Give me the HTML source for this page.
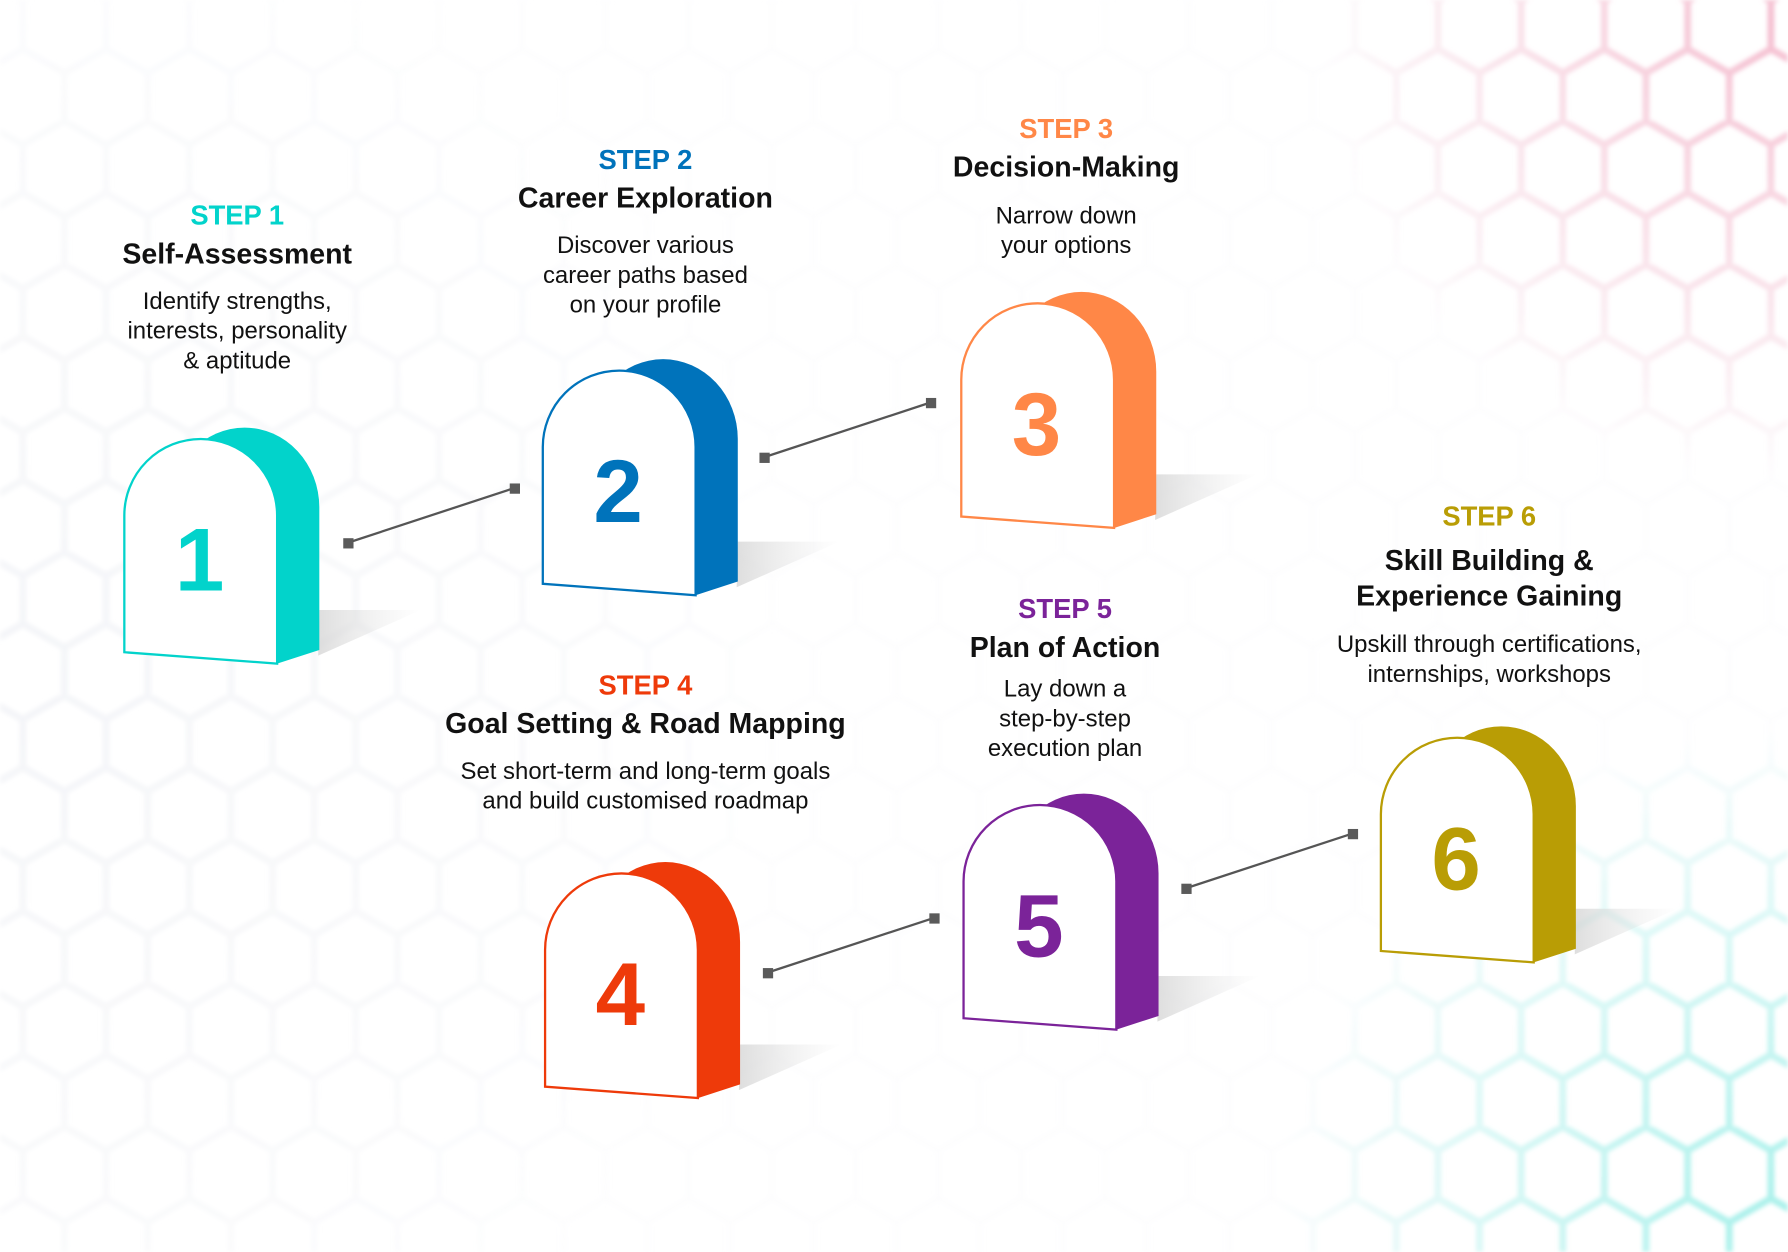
<!DOCTYPE html>
<html><head><meta charset="utf-8"><style>
html,body{margin:0;padding:0;background:#fff;}
svg{display:block;}
text{font-family:"Liberation Sans",sans-serif;text-anchor:middle;}
.st{font-size:24px;font-weight:bold;}
.tt{font-size:25px;fill:#111;font-weight:bold;}
.ds{font-size:21px;fill:#111;}
.num{font-size:78px;font-weight:bold;}
</style></head><body>
<svg width="1788" height="1252" viewBox="0 0 1568 1098" xmlns="http://www.w3.org/2000/svg">
<defs>
<pattern id="hexG" width="73" height="126" patternUnits="userSpaceOnUse" x="20" y="-20">
<path d="M36.5,0 L73,21 L73,63 L36.5,84 L0,63 L0,21 Z M36.5,84 L36.5,126" fill="none" stroke="#eceef3" stroke-width="6"/>
</pattern>
<pattern id="hexP" width="73" height="126" patternUnits="userSpaceOnUse" x="20" y="-20">
<path d="M36.5,0 L73,21 L73,63 L36.5,84 L0,63 L0,21 Z M36.5,84 L36.5,126" fill="none" stroke="#f5bfd0" stroke-width="6"/>
</pattern>
<pattern id="hexC" width="73" height="126" patternUnits="userSpaceOnUse" x="20" y="-20">
<path d="M36.5,0 L73,21 L73,63 L36.5,84 L0,63 L0,21 Z M36.5,84 L36.5,126" fill="none" stroke="#a6f0ea" stroke-width="6"/>
</pattern>
<filter id="bl"><feGaussianBlur stdDeviation="1.8"/></filter>
<radialGradient id="gPink" cx="1560" cy="20" r="400" gradientUnits="userSpaceOnUse"><stop offset="0" stop-color="#fff" stop-opacity="1"/><stop offset="1" stop-color="#fff" stop-opacity="0"/></radialGradient>
<radialGradient id="gCyan" cx="1560" cy="1080" r="440" gradientUnits="userSpaceOnUse"><stop offset="0" stop-color="#fff" stop-opacity="1"/><stop offset="1" stop-color="#fff" stop-opacity="0"/></radialGradient>
<radialGradient id="gGray" cx="0" cy="600" r="700" gradientUnits="userSpaceOnUse"><stop offset="0" stop-color="#fff" stop-opacity="0.6"/><stop offset="1" stop-color="#fff" stop-opacity="0.1"/></radialGradient>
<mask id="mPink"><rect width="1568" height="1098" fill="url(#gPink)"/></mask>
<mask id="mCyan"><rect width="1568" height="1098" fill="url(#gCyan)"/></mask>
<mask id="mGray"><rect width="1568" height="1098" fill="url(#gGray)"/></mask>
<linearGradient id="sh" x1="0" y1="0" x2="1" y2="0"><stop offset="0" stop-color="#d0d0d0" stop-opacity="0.7"/><stop offset="1" stop-color="#e0e0e0" stop-opacity="0"/></linearGradient>
</defs>
<rect width="1568" height="1098" fill="#fff"/>
<g filter="url(#bl)">
<rect width="1568" height="1098" fill="url(#hexG)" mask="url(#mGray)"/>
<rect width="1568" height="1098" fill="url(#hexP)" mask="url(#mPink)"/>
<rect width="1568" height="1098" fill="url(#hexC)" mask="url(#mCyan)"/>
</g>

<!-- connectors -->
<g stroke="#555" stroke-width="2">
<line x1="305" y1="476" x2="451" y2="428"/>
<line x1="670" y1="401" x2="816" y2="353"/>
<line x1="673" y1="853" x2="819" y2="805"/>
<line x1="1040" y1="779" x2="1186" y2="731"/>
</g>
<g fill="#5a5a5a">
<rect x="301" y="472" width="9" height="9"/><rect x="447" y="424" width="9" height="9"/>
<rect x="666" y="397" width="9" height="9"/><rect x="812" y="349" width="9" height="9"/>
<rect x="669" y="849" width="9" height="9"/><rect x="815" y="801" width="9" height="9"/>
<rect x="1036" y="775" width="9" height="9"/><rect x="1182" y="727" width="9" height="9"/>
</g>

<!-- stones -->
<g transform="translate(109,385)">
<polygon points="171,150 260,150 170,190" fill="url(#sh)"/>
<path d="M40,60 A65.5,70 0 0 1 171,60 L171,185 L134,197 Z" fill="#02d3cb"/>
<path d="M0,187 L0,67 A67,67 0 0 1 134,67 L134,197 Z" fill="#fff" stroke="#02d3cb" stroke-width="2"/>
<text x="66" y="133" class="num" fill="#02d3cb">1</text>
</g>
<g transform="translate(476,325)">
<polygon points="171,150 260,150 170,190" fill="url(#sh)"/>
<path d="M40,60 A65.5,70 0 0 1 171,60 L171,185 L134,197 Z" fill="#0073bb"/>
<path d="M0,187 L0,67 A67,67 0 0 1 134,67 L134,197 Z" fill="#fff" stroke="#0073bb" stroke-width="2"/>
<text x="66" y="133" class="num" fill="#0073bb">2</text>
</g>
<g transform="translate(843,266)">
<polygon points="171,150 260,150 170,190" fill="url(#sh)"/>
<path d="M40,60 A65.5,70 0 0 1 171,60 L171,185 L134,197 Z" fill="#ff8747"/>
<path d="M0,187 L0,67 A67,67 0 0 1 134,67 L134,197 Z" fill="#fff" stroke="#ff8747" stroke-width="2"/>
<text x="66" y="133" class="num" fill="#ff8747">3</text>
</g>
<g transform="translate(478,766)">
<polygon points="171,150 260,150 170,190" fill="url(#sh)"/>
<path d="M40,60 A65.5,70 0 0 1 171,60 L171,185 L134,197 Z" fill="#ee3a0a"/>
<path d="M0,187 L0,67 A67,67 0 0 1 134,67 L134,197 Z" fill="#fff" stroke="#ee3a0a" stroke-width="2"/>
<text x="66" y="133" class="num" fill="#ee3a0a">4</text>
</g>
<g transform="translate(845,706)">
<polygon points="171,150 260,150 170,190" fill="url(#sh)"/>
<path d="M40,60 A65.5,70 0 0 1 171,60 L171,185 L134,197 Z" fill="#7b2399"/>
<path d="M0,187 L0,67 A67,67 0 0 1 134,67 L134,197 Z" fill="#fff" stroke="#7b2399" stroke-width="2"/>
<text x="66" y="133" class="num" fill="#7b2399">5</text>
</g>
<g transform="translate(1211,647)">
<polygon points="171,150 260,150 170,190" fill="url(#sh)"/>
<path d="M40,60 A65.5,70 0 0 1 171,60 L171,185 L134,197 Z" fill="#b99d05"/>
<path d="M0,187 L0,67 A67,67 0 0 1 134,67 L134,197 Z" fill="#fff" stroke="#b99d05" stroke-width="2"/>
<text x="66" y="133" class="num" fill="#b99d05">6</text>
</g>

<!-- texts -->
<text x="208" y="197" class="st" fill="#02d3cb">STEP 1</text>
<text x="208" y="231" class="tt">Self-Assessment</text>
<text x="208" y="271" class="ds">Identify strengths,</text>
<text x="208" y="297" class="ds">interests, personality</text>
<text x="208" y="323" class="ds">&amp; aptitude</text>

<text x="566" y="148" class="st" fill="#0073bb">STEP 2</text>
<text x="566" y="182" class="tt">Career Exploration</text>
<text x="566" y="222" class="ds">Discover various</text>
<text x="566" y="248" class="ds">career paths based</text>
<text x="566" y="274" class="ds">on your profile</text>

<text x="935" y="121" class="st" fill="#ff8747">STEP 3</text>
<text x="935" y="155" class="tt">Decision-Making</text>
<text x="935" y="196" class="ds">Narrow down</text>
<text x="935" y="222" class="ds">your options</text>

<text x="566" y="609" class="st" fill="#ee3a0a">STEP 4</text>
<text x="566" y="643" class="tt">Goal Setting &amp; Road Mapping</text>
<text x="566" y="683" class="ds">Set short-term and long-term goals</text>
<text x="566" y="709" class="ds">and build customised roadmap</text>

<text x="934" y="542" class="st" fill="#7b2399">STEP 5</text>
<text x="934" y="576" class="tt">Plan of Action</text>
<text x="934" y="611" class="ds">Lay down a</text>
<text x="934" y="637" class="ds">step-by-step</text>
<text x="934" y="663" class="ds">execution plan</text>

<text x="1306" y="461" class="st" fill="#b99d05">STEP 6</text>
<text x="1306" y="500" class="tt">Skill Building &amp;</text>
<text x="1306" y="531" class="tt">Experience Gaining</text>
<text x="1306" y="572" class="ds">Upskill through certifications,</text>
<text x="1306" y="598" class="ds">internships, workshops</text>
</svg>
</body></html>
